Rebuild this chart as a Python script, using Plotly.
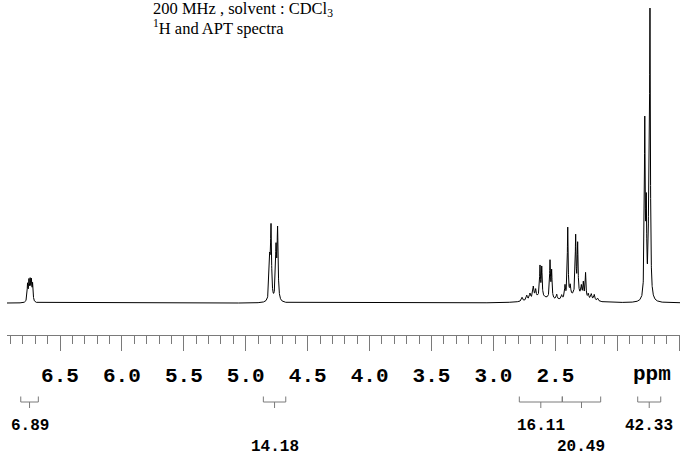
import numpy as np
import plotly.graph_objects as go

# Peak list (ppm, intensity, half width in ppm)
peak_ppm = [6.762, 6.751, 6.741, 6.731, 6.721,
            4.807, 4.796, 4.756, 4.743,
            2.769, 2.731, 2.705, 2.678, 2.659, 2.624, 2.610, 2.543, 2.530,
            2.489, 2.449, 2.422, 2.400, 2.380, 2.336, 2.320, 2.290, 2.274,
            2.256, 2.234, 2.210, 2.186, 2.158,
            2.620, 2.330,
            1.778, 1.766, 1.745, 1.736]
peak_height = [17, 19, 19, 19, 17,
               38, 72, 50, 70,
               4, 5, 6, 12, 8, 30, 29, 37, 27,
               5, 4, 12, 70, 10, 58, 50, 10, 14,
               25, 5, 6, 6, 3,
               5, 7,
               175, 85, 95, 277]
peak_width = [0.004, 0.004, 0.004, 0.004, 0.004,
              0.005, 0.005, 0.005, 0.005,
              0.006, 0.006, 0.006, 0.006, 0.005, 0.004, 0.004, 0.004, 0.004,
              0.005, 0.005, 0.004, 0.004, 0.005, 0.004, 0.004, 0.005, 0.004,
              0.004, 0.005, 0.006, 0.006, 0.006,
              0.09, 0.08,
              0.004, 0.004, 0.004, 0.004]

# Integrals: start ppm, end ppm, value, label row
int_start = [6.817, 4.858, 2.791, 2.444, 1.835]
int_end = [6.675, 4.677, 2.444, 2.134, 1.649]
int_value = ["6.89", "14.18", "16.11", "20.49", "42.33"]
int_row = [1, 2, 1, 2, 1]

major_ticks = [6.5, 6.0, 5.5, 5.0, 4.5, 4.0, 3.5, 3.0, 2.5, 2.0, 1.5]
major_labels = ["6.5", "6.0", "5.5", "5.0", "4.5", "4.0", "3.5", "3.0", "2.5", "", ""]

ppm = np.arange(1.45, 6.97, 0.0005)
signal = np.zeros_like(ppm)
for c, h, w in zip(peak_ppm, peak_height, peak_width):
    signal += h / (1 + ((ppm - c) / w) ** 2)

fig = go.Figure()
fig.add_trace(go.Scatter(x=ppm, y=signal, mode='lines',
                         line=dict(color='black', width=1), hoverinfo='skip'))

H = 335    # plot area height in px


def ypx(p):
    # page pixel -> paper coordinate
    return (H - p) / H


shapes = []
gray = '#7a7a7a'
for s, e in zip(int_start, int_end):
    c = (s + e) / 2
    shapes.append(dict(type='line', xref='x', yref='paper', x0=s, x1=e,
                       y0=ypx(402), y1=ypx(402), line=dict(color=gray, width=1)))
    for xx in (s, e):
        shapes.append(dict(type='line', xref='x', yref='paper', x0=xx, x1=xx,
                           y0=ypx(396.5), y1=ypx(402), line=dict(color=gray, width=1)))
    shapes.append(dict(type='line', xref='x', yref='paper', x0=c, x1=c,
                       y0=ypx(402), y1=ypx(408), line=dict(color=gray, width=1)))

annotations = []
for s, e, v, r in zip(int_start, int_end, int_value, int_row):
    annotations.append(dict(x=(s + e) / 2, xref='x', y=ypx(425.5 if r == 1 else 447),
                            yref='paper', text=v, showarrow=False,
                            xanchor='center', yanchor='middle',
                            font=dict(family='Liberation Mono', size=16,
                                      color='black', weight='bold')))
annotations.append(dict(x=1.722, xref='x', y=ypx(375), yref='paper', text='ppm',
                        showarrow=False, xanchor='center', yanchor='middle',
                        font=dict(family='Liberation Mono', size=21,
                                  color='black', weight='bold')))
annotations.append(dict(x=(150.5 - 7) / 673, xref='paper', y=ypx(9), yref='paper',
                        text='200 MHz , solvent : CDCl<sub>3</sub>', showarrow=False,
                        xanchor='left', yanchor='middle',
                        font=dict(family='Liberation Serif', size=16.5, color='black')))
annotations.append(dict(x=(150.5 - 7) / 673, xref='paper', y=ypx(28), yref='paper',
                        text='<sup>1</sup>H and APT spectra', showarrow=False,
                        xanchor='left', yanchor='middle',
                        font=dict(family='Liberation Serif', size=16.5, color='black')))

fig.update_layout(
    width=680, height=455,
    margin=dict(l=7, r=0, t=0, b=120),
    paper_bgcolor='white', plot_bgcolor='white',
    showlegend=False,
    shapes=shapes,
    annotations=annotations,
    xaxis=dict(range=[6.928, 1.4935], showgrid=False, zeroline=False,
               showline=True, linecolor=gray, linewidth=1,
               ticks='outside', ticklen=15, tickcolor=gray, tickwidth=1,
               tickmode='array', tickvals=major_ticks, ticktext=major_labels,
               tickfont=dict(family='Liberation Mono', size=21, color='black',
                             weight='bold'),
               ticklabelstandoff=6,
               minor=dict(dtick=0.1, tick0=0, ticks='outside', ticklen=8,
                          tickcolor=gray, tickwidth=1, showgrid=False)),
    yaxis=dict(range=[-32, 304], visible=False),
)

# drop the default page margin so the figure sits at the window corner
fig.write_html("out.html", config={'displayModeBar': False},
               post_script="document.body.style.margin='0';")
